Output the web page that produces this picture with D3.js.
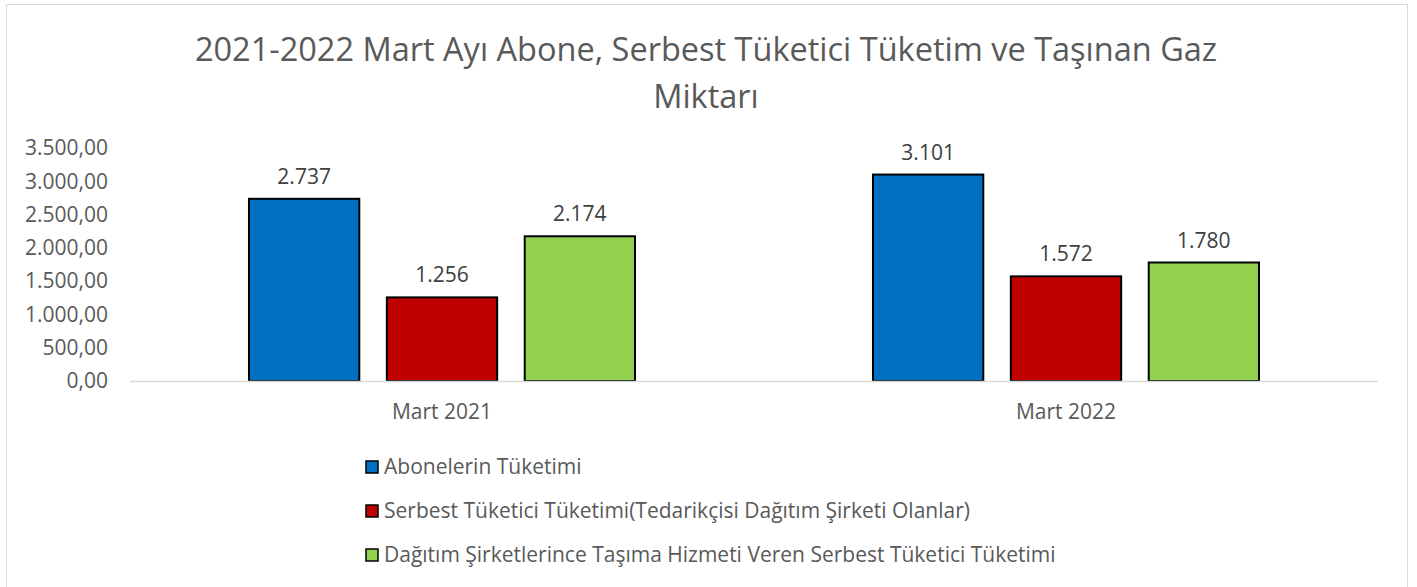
<!DOCTYPE html>
<html>
<head>
<meta charset="utf-8">
<script src="https://cdn.jsdelivr.net/npm/d3@7"></script>
<style>
    body { margin: 0; background: #fff; }
    svg { display: block; font-family: "Open Sans", sans-serif; }
</style>
</head>
<body>
<div id="chart"></div>
<script>
const categories = ["Mart 2021", "Mart 2022"];
const seriesNames = [
    "Abonelerin Tüketimi",
    "Serbest Tüketici Tüketimi(Tedarikçisi Dağıtım Şirketi Olanlar)",
    "Dağıtım Şirketlerince Taşıma Hizmeti Veren Serbest Tüketici Tüketimi"
];
const aboneValues = [2737, 3101];
const serbestValues = [1256, 1572];
const tasimaValues = [2174, 1780];
const yTicks = [0, 500, 1000, 1500, 2000, 2500, 3000, 3500];
const seriesColors = ["#0070C0", "#C00000", "#92D050"];
const titleLines = ["2021-2022 Mart Ayı Abone, Serbest Tüketici Tüketim ve Taşınan Gaz", "Miktarı"];

const width = 1417, height = 587;
const margin = {top: 148, right: 39, bottom: 206, left: 130};
const textColor = "#595959";

const svg = d3.select("#chart").append("svg")
    .attr("width", width)
    .attr("height", height);

// chart frame
svg.append("rect")
    .attr("x", 6.5).attr("y", 4.5)
    .attr("width", 1401).attr("height", 590)
    .attr("fill", "#fff")
    .attr("stroke", "#d9d9d9");

svg.selectAll(".title")
    .data(titleLines)
    .join("text")
    .attr("class", "title")
    .attr("x", 706)
    .attr("y", (d, i) => 61 + i * 47)
    .attr("text-anchor", "middle")
    .attr("fill", textColor)
    .style("font-size", "32.5px")
    .text(d => d);

const series = [aboneValues, serbestValues, tasimaValues];
const data = categories.map((c, i) => ({
    category: c,
    values: series.map((s, j) => ({key: seriesNames[j], value: s[i], idx: j}))
}));

const x0 = d3.scaleBand()
    .domain(categories)
    .range([margin.left, width - margin.right]);

const x1 = d3.scaleBand()
    .domain(d3.range(3))
    .range([0, 386])
    .paddingInner(0.2);

const y = d3.scaleLinear()
    .domain([0, 3500])
    .range([height - margin.bottom, margin.top]);

const fmtAxis = v => d3.format(",.2f")(v).replace(/,/g, "#").replace(".", ",").replace(/#/g, ".");
const fmtLabel = v => d3.format(",")(v).replace(/,/g, ".");

const yAxis = svg.append("g")
    .attr("transform", `translate(${margin.left},0)`)
    .call(d3.axisLeft(y).tickValues(yTicks).tickFormat(fmtAxis).tickSize(0).tickPadding(22))
    .attr("font-family", "'Open Sans', sans-serif")
    .attr("font-size", null);
yAxis.select(".domain").remove();
yAxis.selectAll("text")
    .attr("fill", textColor)
    .style("font-size", "21px");

const groups = svg.selectAll(".group")
    .data(data)
    .join("g")
    .attr("class", "group")
    .attr("transform", d => `translate(${x0(d.category) + x0.bandwidth() / 2 - 193},0)`);

groups.selectAll("rect")
    .data(d => d.values)
    .join("rect")
    .attr("x", d => x1(d.idx))
    .attr("y", d => y(d.value))
    .attr("width", x1.bandwidth())
    .attr("height", d => y(0) - y(d.value))
    .attr("fill", d => seriesColors[d.idx])
    .attr("stroke", "#000")
    .attr("stroke-width", 2);

groups.selectAll(".val")
    .data(d => d.values)
    .join("text")
    .attr("class", "val")
    .attr("x", d => x1(d.idx) + x1.bandwidth() / 2)
    .attr("y", d => y(d.value) - 15)
    .attr("text-anchor", "middle")
    .attr("fill", "#404040")
    .style("font-size", "21px")
    .text(d => fmtLabel(d.value));

// category axis
svg.append("line")
    .attr("x1", margin.left).attr("x2", width - margin.right)
    .attr("y1", y(0) + 0.5).attr("y2", y(0) + 0.5)
    .attr("stroke", "#d9d9d9")
    .attr("stroke-width", 1.5);

svg.selectAll(".cat")
    .data(categories)
    .join("text")
    .attr("class", "cat")
    .attr("x", d => x0(d) + x0.bandwidth() / 2)
    .attr("y", y(0) + 38)
    .attr("text-anchor", "middle")
    .attr("fill", textColor)
    .style("font-size", "21px")
    .text(d => d);

// legend
const legend = svg.selectAll(".legend")
    .data(seriesNames)
    .join("g")
    .attr("class", "legend")
    .attr("transform", (d, i) => `translate(366,${467 + i * 44})`);

legend.append("rect")
    .attr("x", 0).attr("y", -6)
    .attr("width", 12).attr("height", 12)
    .attr("fill", (d, i) => seriesColors[i])
    .attr("stroke", "#000")
    .attr("stroke-width", 1.5);

legend.append("text")
    .attr("x", 18)
    .attr("y", 0)
    .attr("dy", "0.35em")
    .attr("fill", textColor)
    .style("font-size", "21px")
    .text(d => d);
</script>
</body>
</html>
